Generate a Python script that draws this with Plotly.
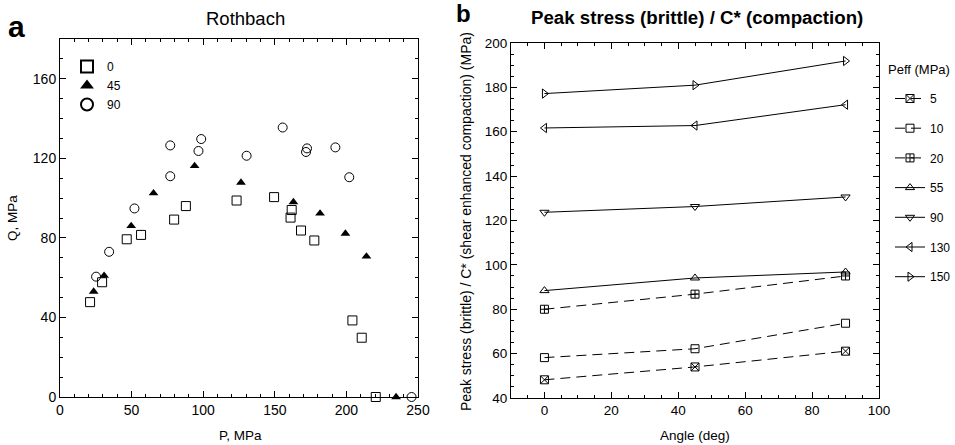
import plotly.graph_objects as go

# ---------------- Panel a data (Rothbach) ----------------
p0 = [21.0, 29.4, 46.6, 56.6, 79.7, 87.9, 123.3, 149.5, 161.8, 161.0, 168.3, 177.6, 204.2, 210.7, 220.5]
q0 = [47.7, 57.7, 79.3, 81.5, 89.2, 96.0, 98.8, 100.5, 94.0, 90.2, 83.7, 78.7, 38.5, 29.8, 0.0]
p45 = [23.5, 30.8, 49.7, 65.3, 94.0, 126.4, 163.0, 181.6, 199.3, 214.0, 234.7]
q45 = [53.0, 61.0, 86.0, 102.5, 116.2, 107.8, 98.0, 92.3, 82.2, 70.7, 0.0]
p90 = [25.2, 34.3, 52.0, 77.0, 77.0, 96.7, 98.6, 130.3, 155.5, 172.5, 171.8, 192.3, 202.0, 245.5]
q90 = [60.5, 73.0, 94.8, 111.0, 126.5, 123.7, 129.7, 121.3, 135.5, 125.0, 123.2, 125.5, 110.5, 0.0]

# ---------------- Panel b data ----------------
angles = [0, 45, 90]
peff_labels = ["5", "10", "20", "55", "90", "130", "150"]
peak = [
    [48.2, 54.0, 61.1],
    [58.2, 62.2, 73.7],
    [80.0, 86.8, 95.0],
    [88.4, 94.1, 96.8],
    [123.7, 126.3, 130.6],
    [161.7, 162.8, 172.2],
    [177.2, 181.0, 191.9],
]
symbols_b = ["square-x-open", "square-open", "square-cross-open", "triangle-up-open",
             "triangle-down-open", "triangle-left-open", "triangle-right-open"]
dashes_b = ["10px,6px", "10px,6px", "10px,6px", "solid", "solid", "solid", "solid"]

FONT = "Liberation Sans, Arial, sans-serif"
fig = go.Figure()

# Panel a traces
fig.add_trace(go.Scatter(x=p0, y=q0, mode="markers", name="0", xaxis="x", yaxis="y",
                         marker=dict(symbol="square-open", size=9, color="black", line=dict(width=1, color="black")),
                         cliponaxis=False, legend="legend"))
fig.add_trace(go.Scatter(x=p45, y=q45, mode="markers", name="45", xaxis="x", yaxis="y",
                         marker=dict(symbol="triangle-up", size=8.5, color="black", line=dict(width=0)),
                         cliponaxis=False, legend="legend"))
fig.add_trace(go.Scatter(x=p90, y=q90, mode="markers", name="90", xaxis="x", yaxis="y",
                         marker=dict(symbol="circle-open", size=9, color="black", line=dict(width=1, color="black")),
                         cliponaxis=False, legend="legend"))

# Panel b traces
for lab, vals, sym, dsh in zip(peff_labels, peak, symbols_b, dashes_b):
    fig.add_trace(go.Scatter(x=angles, y=vals, mode="lines+markers", name=lab, xaxis="x2", yaxis="y2",
                             line=dict(color="black", width=1, dash=dsh),
                             marker=dict(symbol=sym, size=8, color="black", line=dict(width=1, color="black")),
                             legend="legend2", legendgroup="g" + lab, cliponaxis=False))


def axis_style(fs):
    return dict(showline=True, linecolor="black", linewidth=1, mirror="ticks", ticks="inside",
                ticklen=6, tickwidth=1, tickcolor="black", showgrid=False, zeroline=False,
                automargin=False, tickfont=dict(family=FONT, size=fs, color="black"))


fig.update_layout(
    width=955, height=445,
    margin=dict(l=0, r=0, t=0, b=0, autoexpand=False),
    paper_bgcolor="white", plot_bgcolor="white",
    font=dict(family=FONT, color="black"),
    xaxis=dict(domain=[60/955, 418/955], range=[0, 250], dtick=50, tick0=0, anchor="y",
               minor=dict(dtick=10, ticks="inside", ticklen=3, tickcolor="black"), **axis_style(14)),
    yaxis=dict(domain=[1-397/445, 1-39/445], range=[0, 180], dtick=40, tick0=0, anchor="x",
               minor=dict(dtick=10, ticks="inside", ticklen=3, tickcolor="black"), **axis_style(14)),
    xaxis2=dict(domain=[511/955, 879/955], range=[-10, 100], dtick=20, tick0=0, anchor="y2",
                minor=dict(dtick=5, ticks="inside", ticklen=3, tickcolor="black"), **axis_style(13.5)),
    yaxis2=dict(domain=[1-398/445, 1-43/445], range=[40, 200], dtick=20, tick0=0, anchor="x2",
                minor=dict(dtick=5, ticks="inside", ticklen=3, tickcolor="black"), **axis_style(13.5)),
    legend=dict(x=67/955, y=1-52/445, xanchor="left", yanchor="top", bgcolor="rgba(0,0,0,0)",
                font=dict(family=FONT, size=12), itemwidth=30, tracegroupgap=0, itemsizing="constant"),
    legend2=dict(x=890/955, y=1-84/445, xanchor="left", yanchor="top", bgcolor="rgba(0,0,0,0)",
                 font=dict(family=FONT, size=12), itemwidth=30, tracegroupgap=10.7),
    showlegend=True,
)

ann = [
    dict(text="<b>a</b>", x=6/955, y=1-26/445, xanchor="left", yanchor="middle", font=dict(size=30)),
    dict(text="Rothbach", x=245/955, y=1-18/445, xanchor="center", yanchor="middle", font=dict(size=18.5)),
    dict(text="<b>b</b>", x=454/955, y=1-14/445, xanchor="left", yanchor="middle", font=dict(size=24)),
    dict(text="<b>Peak stress (brittle) / C* (compaction)</b>", x=697/955, y=1-17/445, xanchor="center",
         yanchor="middle", font=dict(size=18.7)),
    dict(text="P, MPa", x=240/955, y=1-435/445, xanchor="center", yanchor="middle", font=dict(size=13.5)),
    dict(text="Q, MPa", x=12/955, y=1-218/445, xanchor="center", yanchor="middle", textangle=-90, font=dict(size=13.5)),
    dict(text="Angle (deg)", x=695/955, y=1-435/445, xanchor="center", yanchor="middle", font=dict(size=13.5)),
    dict(text="Peak stress (brittle) / C* (shear enhanced compaction) (MPa)", x=466/955, y=1-222/445,
         xanchor="center", yanchor="middle", textangle=-90, font=dict(size=14)),
    dict(text="Peff (MPa)", x=886/955, y=1-69/445, xanchor="left", yanchor="middle", font=dict(size=13)),
]
for a in ann:
    a.update(xref="paper", yref="paper", showarrow=False)
    a["font"].update(family=FONT, color="black")
fig.update_layout(annotations=ann)

fig.write_html("out.html")
